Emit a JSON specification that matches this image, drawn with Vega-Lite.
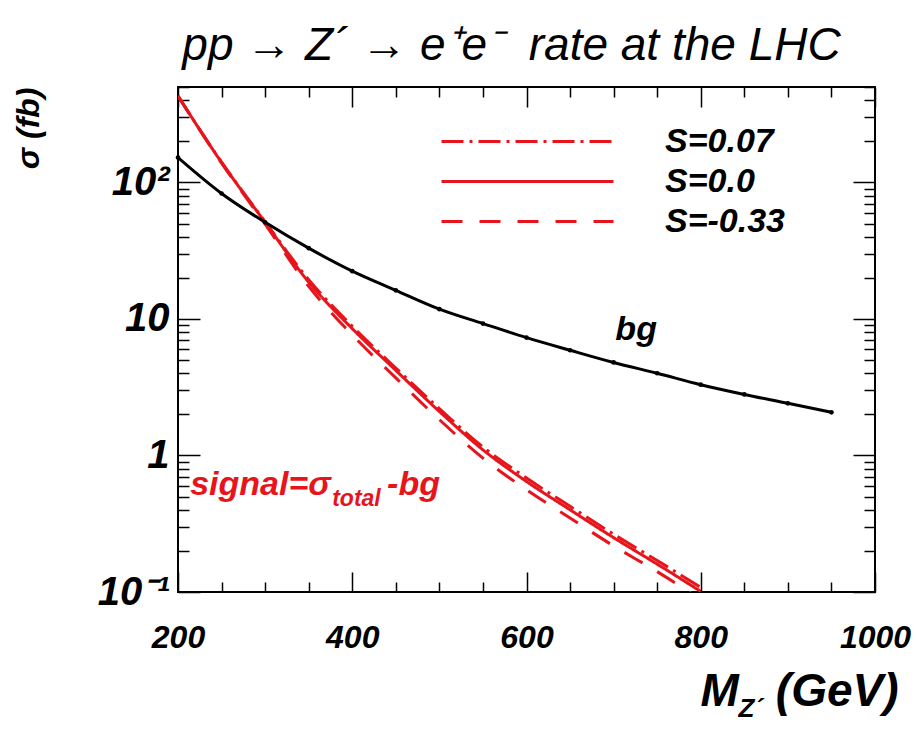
{
  "$schema": "https://vega.github.io/schema/vega-lite/v6.json",
  "width": 697,
  "height": 505,
  "autosize": {"type": "none"},
  "padding": {"left": 178, "top": 87, "right": 42, "bottom": 144},
  "background": "white",
  "config": {
    "view": {"stroke": "black", "strokeWidth": 2},
    "font": "Liberation Sans",
    "axis": {"grid": false, "domain": false, "tickColor": "black", "tickWidth": 1.5, "labelColor": "black", "titleColor": "black"}
  },
  "title": {
    "text": "pp → Z´ → e⁺e⁻\u00a0\u00a0rate at the LHC",
    "font": "Liberation Sans",
    "fontSize": 46,
    "fontStyle": "italic",
    "fontWeight": "normal",
    "color": "black",
    "anchor": "middle",
    "frame": "group",
    "dx": -15,
    "offset": -20,
    "baseline": "alphabetic"
  },
  "datasets": {
    "bg": [
      {"M": 200, "sigma": 152}, {"M": 250, "sigma": 83}, {"M": 300, "sigma": 51},
      {"M": 350, "sigma": 33}, {"M": 400, "sigma": 22.4}, {"M": 450, "sigma": 16.2},
      {"M": 500, "sigma": 11.8}, {"M": 550, "sigma": 9.25}, {"M": 600, "sigma": 7.3},
      {"M": 650, "sigma": 5.9}, {"M": 700, "sigma": 4.8}, {"M": 750, "sigma": 4.0},
      {"M": 800, "sigma": 3.3}, {"M": 850, "sigma": 2.8}, {"M": 900, "sigma": 2.41},
      {"M": 950, "sigma": 2.07}
    ],
    "sig": [
      {"M": 200, "S": "S=0.07", "sigma": 430}, {"M": 250, "S": "S=0.07", "sigma": 141},
      {"M": 300, "S": "S=0.07", "sigma": 51.5}, {"M": 350, "S": "S=0.07", "sigma": 19.4},
      {"M": 400, "S": "S=0.07", "sigma": 8.85}, {"M": 450, "S": "S=0.07", "sigma": 4.37},
      {"M": 500, "S": "S=0.07", "sigma": 2.2}, {"M": 550, "S": "S=0.07", "sigma": 1.155},
      {"M": 600, "S": "S=0.07", "sigma": 0.684}, {"M": 650, "S": "S=0.07", "sigma": 0.424},
      {"M": 700, "S": "S=0.07", "sigma": 0.265}, {"M": 750, "S": "S=0.07", "sigma": 0.17},
      {"M": 800, "S": "S=0.07", "sigma": 0.108},
      {"M": 200, "S": "S=0.0", "sigma": 430}, {"M": 250, "S": "S=0.0", "sigma": 140},
      {"M": 300, "S": "S=0.0", "sigma": 51}, {"M": 350, "S": "S=0.0", "sigma": 18.6},
      {"M": 400, "S": "S=0.0", "sigma": 8.5}, {"M": 450, "S": "S=0.0", "sigma": 4.2},
      {"M": 500, "S": "S=0.0", "sigma": 2.1}, {"M": 550, "S": "S=0.0", "sigma": 1.1},
      {"M": 600, "S": "S=0.0", "sigma": 0.645}, {"M": 650, "S": "S=0.0", "sigma": 0.4},
      {"M": 700, "S": "S=0.0", "sigma": 0.25}, {"M": 750, "S": "S=0.0", "sigma": 0.16},
      {"M": 800, "S": "S=0.0", "sigma": 0.101},
      {"M": 200, "S": "S=-0.33", "sigma": 430}, {"M": 250, "S": "S=-0.33", "sigma": 138.6},
      {"M": 300, "S": "S=-0.33", "sigma": 49.5}, {"M": 350, "S": "S=-0.33", "sigma": 17.3},
      {"M": 400, "S": "S=-0.33", "sigma": 7.65}, {"M": 450, "S": "S=-0.33", "sigma": 3.7},
      {"M": 500, "S": "S=-0.33", "sigma": 1.83}, {"M": 550, "S": "S=-0.33", "sigma": 0.957},
      {"M": 600, "S": "S=-0.33", "sigma": 0.561}, {"M": 650, "S": "S=-0.33", "sigma": 0.348},
      {"M": 700, "S": "S=-0.33", "sigma": 0.2175}, {"M": 750, "S": "S=-0.33", "sigma": 0.141},
      {"M": 800, "S": "S=-0.33", "sigma": 0.088}
    ]
  },
  "resolve": {"axis": {"x": "independent", "y": "independent"}},
  "layer": [
    {
      "data": {"name": "sig"},
      "mark": {"type": "line", "color": "#e8141b", "strokeWidth": 3, "clip": true, "interpolate": "monotone"},
      "encoding": {
        "x": {
          "field": "M", "type": "quantitative",
          "scale": {"domain": [200, 1000], "nice": false, "zero": false},
          "axis": {
            "orient": "bottom", "values": [200, 400, 600, 800, 1000], "tickSize": -20, "format": "d",
            "labelPadding": 50, "labelFontSize": 32, "labelFontWeight": "bold", "labelFontStyle": "italic",
            "labelFlush": false, "labelOverlap": false,
            "title": "M", "titleFontSize": 46, "titleFontWeight": "bold", "titleFontStyle": "italic",
            "titleX": 522, "titleY": 113, "titleAlign": "left", "titleBaseline": "alphabetic"
          }
        },
        "y": {
          "field": "sigma", "type": "quantitative",
          "scale": {"type": "log", "domain": [0.1, 500], "nice": false},
          "axis": {
            "orient": "left", "values": [0.1, 1, 10, 100], "tickSize": -22,
            "labelPadding": 31, "labelFontSize": 40, "labelFontWeight": "bold", "labelFontStyle": "italic",
            "labelExpr": "datum.value > 50 ? '10²' : datum.value > 5 ? '10\u2002' : datum.value > 0.5 ? '1\u2002' : '10⁻¹'",
            "labelOverlap": false, "labelFlush": false,
            "title": "σ (fb)", "titleFontSize": 32, "titleFontWeight": "bold", "titleFontStyle": "italic",
            "titleX": -150, "titleY": 0, "titleAngle": 270, "titleAlign": "right", "titleBaseline": "middle"
          }
        },
        "strokeDash": {
          "field": "S", "type": "nominal",
          "scale": {"domain": ["S=0.07", "S=0.0", "S=-0.33"], "range": [[22, 6, 3, 6], [1, 0], [21, 17]]},
          "legend": {
            "orient": "none", "legendX": 326.5, "legendY": 31.5, "title": null,
            "symbolType": "M-4,0H4", "symbolSize": 1849, "symbolStrokeWidth": 3, "symbolStrokeColor": "#e8141b",
            "labelFontSize": 34, "labelFontWeight": "bold", "labelFontStyle": "italic", "labelColor": "black",
            "labelOffset": 114.5, "rowPadding": -2
          }
        }
      }
    },
    {
      "data": {"name": "bg"},
      "mark": {"type": "line", "color": "black", "strokeWidth": 3, "clip": true, "interpolate": "monotone"},
      "encoding": {
        "x": {
          "field": "M", "type": "quantitative",
          "scale": {"domain": [200, 1000], "nice": false, "zero": false},
          "axis": {
            "orient": "bottom", "values": [250, 300, 350, 450, 500, 550, 650, 700, 750, 850, 900, 950],
            "tickSize": -10, "labels": false,
            "title": "Z´", "titleFontSize": 26, "titleFontWeight": "bold", "titleFontStyle": "italic",
            "titleX": 560, "titleY": 124, "titleAlign": "left", "titleBaseline": "alphabetic"
          }
        },
        "y": {
          "field": "sigma", "type": "quantitative",
          "scale": {"type": "log", "domain": [0.1, 500], "nice": false},
          "axis": {
            "orient": "left", "values": [0.2, 0.3, 0.4, 0.5, 0.6, 0.7, 0.8, 0.9, 2, 3, 4, 5, 6, 7, 8, 9, 20, 30, 40, 50, 60, 70, 80, 90, 200, 300, 400, 500],
            "tickSize": -11, "labels": false, "title": null
          }
        }
      }
    },
    {
      "data": {"name": "bg"},
      "mark": {"type": "point", "filled": true, "color": "black", "size": 22, "opacity": 1},
      "encoding": {
        "x": {
          "field": "M", "type": "quantitative",
          "scale": {"domain": [200, 1000], "nice": false, "zero": false},
          "axis": {
            "orient": "top", "values": [200, 400, 600, 800, 1000], "tickSize": -20, "labels": false,
            "title": "(GeV)", "titleFontSize": 46, "titleFontWeight": "bold", "titleFontStyle": "italic",
            "titleX": 720, "titleY": 618, "titleAlign": "right", "titleBaseline": "alphabetic"
          }
        },
        "y": {
          "field": "sigma", "type": "quantitative",
          "scale": {"type": "log", "domain": [0.1, 500], "nice": false},
          "axis": {"orient": "right", "values": [0.1, 1, 10, 100], "tickSize": -22, "labels": false, "title": null}
        }
      }
    },
    {
      "data": {"values": [{}]},
      "mark": {"type": "text", "text": "bg", "font": "Liberation Sans", "fontSize": 34, "fontWeight": "bold", "fontStyle": "italic", "color": "black", "align": "left", "baseline": "alphabetic"},
      "encoding": {
        "x": {
          "datum": 702, "type": "quantitative",
          "scale": {"domain": [200, 1000], "nice": false, "zero": false},
          "axis": {
            "orient": "top", "values": [250, 300, 350, 450, 500, 550, 650, 700, 750, 850, 900, 950],
            "tickSize": -10, "labels": false, "title": null
          }
        },
        "y": {
          "datum": 7.0, "type": "quantitative",
          "scale": {"type": "log", "domain": [0.1, 500], "nice": false},
          "axis": {
            "orient": "right", "values": [0.2, 0.3, 0.4, 0.5, 0.6, 0.7, 0.8, 0.9, 2, 3, 4, 5, 6, 7, 8, 9, 20, 30, 40, 50, 60, 70, 80, 90, 200, 300, 400, 500],
            "tickSize": -11, "labels": false, "title": null
          }
        }
      }
    },
    {
      "data": {"values": [{}]},
      "mark": {"type": "text", "text": "signal=σ", "font": "Liberation Sans", "fontSize": 34, "fontWeight": "bold", "fontStyle": "italic", "color": "#e8141b", "align": "left", "baseline": "alphabetic"},
      "encoding": {
        "x": {"datum": 214, "type": "quantitative", "axis": null},
        "y": {"datum": 0.51, "type": "quantitative", "axis": null}
      }
    },
    {
      "data": {"values": [{}]},
      "mark": {"type": "text", "text": "total", "font": "Liberation Sans", "fontSize": 23, "fontWeight": "bold", "fontStyle": "italic", "color": "#e8141b", "align": "left", "baseline": "alphabetic"},
      "encoding": {
        "x": {"datum": 377, "type": "quantitative", "axis": null},
        "y": {"datum": 0.43, "type": "quantitative", "axis": null}
      }
    },
    {
      "data": {"values": [{}]},
      "mark": {"type": "text", "text": "-bg", "font": "Liberation Sans", "fontSize": 34, "fontWeight": "bold", "fontStyle": "italic", "color": "#e8141b", "align": "left", "baseline": "alphabetic"},
      "encoding": {
        "x": {"datum": 440, "type": "quantitative", "axis": null},
        "y": {"datum": 0.51, "type": "quantitative", "axis": null}
      }
    }
  ]
}
